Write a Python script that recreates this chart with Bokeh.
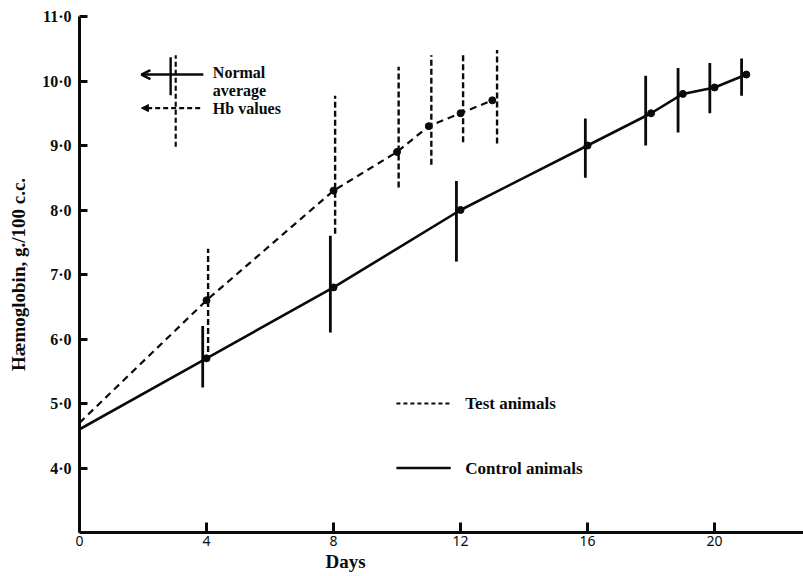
from bokeh.plotting import figure
from bokeh.models import Range1d, FixedTicker, Label, Arrow, OpenHead, NormalHead, Title
from bokeh.embed import file_html
from bokeh.resources import INLINE

# ---- data ----
ctrl_days = [0, 4, 8, 12, 16, 18, 19, 20, 21]
ctrl_hb = [4.6, 5.7, 6.8, 8.0, 9.0, 9.5, 9.8, 9.9, 10.1]
ctrl_bar_days = [3.88, 7.9, 11.87, 15.93, 17.83, 18.85, 19.85, 20.85]
ctrl_low = [5.25, 6.1, 7.2, 8.5, 9.0, 9.2, 9.5, 9.77]
ctrl_high = [6.2, 7.6, 8.45, 9.42, 10.08, 10.2, 10.28, 10.35]

test_days = [0, 4, 8, 10, 11, 12, 13]
test_hb = [4.7, 6.6, 8.3, 8.9, 9.3, 9.5, 9.7]
test_bar_days = [4.05, 8.05, 10.05, 11.08, 12.08, 13.15]
test_low = [5.8, 7.63, 8.35, 8.7, 9.05, 9.03]
test_high = [7.4, 9.77, 10.22, 10.4, 10.42, 10.48]

# normal average Hb values (key in upper left)
normal_ctrl_x, normal_ctrl_low, normal_ctrl_high = 2.87, 9.78, 10.37
normal_test_x, normal_test_low, normal_test_high = 3.03, 8.98, 10.4

x_ticks = [0, 4, 8, 12, 16, 20]
y_ticks = [4, 5, 6, 7, 8, 9, 10, 11]
y_tick_labels = ["4·0", "5·0", "6·0", "7·0", "8·0", "9·0", "10·0", "11·0"]

SERIF = "Liberation Serif"
INK = "#0a0a0a"

p = figure(width=803, height=576, output_backend="svg", toolbar_location=None,
           x_range=Range1d(0, 22.8), y_range=Range1d(3, 11),
           min_border_left=79, min_border_top=16, min_border_bottom=44,
           min_border_right=0)
p.outline_line_color = None
p.grid.visible = False
p.background_fill_color = "white"
p.border_fill_color = "white"

# axes
for ax in (p.xaxis[0], p.yaxis[0]):
    ax.axis_line_width = 3
    ax.axis_line_color = INK
    ax.major_tick_line_width = 3
    ax.major_tick_line_color = INK
    ax.minor_tick_line_color = None
    ax.major_tick_out = 0

p.xaxis.ticker = FixedTicker(ticks=x_ticks)
p.xaxis.major_tick_in = 10
p.xaxis.major_label_text_font = "Noto Sans"
p.xaxis.major_label_text_font_size = "14px"
p.xaxis.major_label_text_color = INK
p.xaxis.major_label_standoff = 3

p.yaxis.ticker = FixedTicker(ticks=y_ticks)
p.yaxis.major_label_overrides = {t: l for t, l in zip(y_ticks, y_tick_labels)}
p.yaxis.major_tick_in = 8
p.yaxis.major_label_text_font = SERIF
p.yaxis.major_label_text_font_style = "bold"
p.yaxis.major_label_text_font_size = "16px"
p.yaxis.major_label_text_color = INK
p.yaxis.major_label_standoff = 8
p.yaxis.axis_label = "Hæmoglobin, g./100 c.c."
p.yaxis.axis_label_text_font = SERIF
p.yaxis.axis_label_text_font_style = "bold"
p.yaxis.axis_label_text_font_size = "19px"
p.yaxis.axis_label_text_color = INK
p.yaxis.axis_label_standoff = 10

# x axis title, placed left of centre as in the original
days_title = Title(text="Days", align="left", offset=246, text_font=SERIF,
                   text_font_style="bold", text_font_size="19px", text_color=INK,
                   standoff=0)
p.add_layout(days_title, "below")

# control animals (solid)
p.line(ctrl_days, ctrl_hb, line_color=INK, line_width=2.6)
p.segment(x0=ctrl_bar_days, y0=ctrl_low, x1=ctrl_bar_days, y1=ctrl_high,
          line_color=INK, line_width=2.8)
p.scatter(ctrl_days[1:], ctrl_hb[1:], size=7, fill_color=INK, line_color=INK)

# test animals (dashed)
p.line(test_days, test_hb, line_color=INK, line_width=2.2, line_dash="7 5")
p.segment(x0=test_bar_days, y0=test_low, x1=test_bar_days, y1=test_high,
          line_color=INK, line_width=2.4, line_dash="6 3")
p.scatter(test_days[1:], test_hb[1:], size=7, fill_color=INK, line_color=INK)

# key: normal average Hb values
p.segment(x0=[normal_ctrl_x], y0=[normal_ctrl_low], x1=[normal_ctrl_x], y1=[normal_ctrl_high],
          line_color=INK, line_width=2.4)
p.segment(x0=[normal_test_x], y0=[normal_test_low], x1=[normal_test_x], y1=[normal_test_high],
          line_color=INK, line_width=2.2, line_dash="5 3")
p.add_layout(Arrow(end=OpenHead(size=9, line_width=2.5, line_color=INK),
                   x_start=3.9, y_start=10.1, x_end=1.95, y_end=10.1,
                   line_width=2.5, line_color=INK))
p.add_layout(Arrow(end=NormalHead(size=7, fill_color=INK, line_color=INK),
                   x_start=3.8, y_start=9.58, x_end=1.95, y_end=9.58,
                   line_width=2.2, line_color=INK, line_dash="5 3"))
for txt, yy in [("Normal", 10.13), ("average", 9.85), ("Hb values", 9.57)]:
    p.add_layout(Label(x=4.2, y=yy, text=txt, text_font=SERIF, text_font_style="bold",
                       text_font_size="16px", text_baseline="middle", text_color=INK))

# key: test / control animals
p.line([9.98, 11.69], [5.0, 5.0], line_color=INK, line_width=2.0, line_dash="4 3")
p.line([9.98, 11.69], [4.0, 4.0], line_color=INK, line_width=2.6)
p.add_layout(Label(x=12.15, y=5.0, text="Test animals", text_font=SERIF, text_font_style="bold",
                   text_font_size="17px", text_baseline="middle", text_color=INK))
p.add_layout(Label(x=12.15, y=4.0, text="Control animals", text_font=SERIF, text_font_style="bold",
                   text_font_size="17px", text_baseline="middle", text_color=INK))

open("out.html", "w").write(file_html(p, INLINE))
